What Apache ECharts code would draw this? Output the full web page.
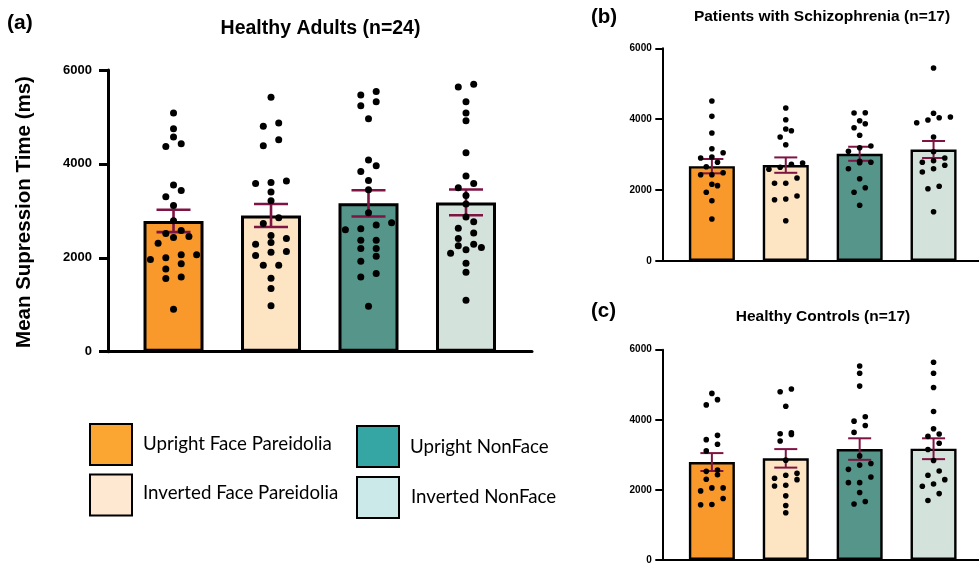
<!DOCTYPE html>
<html>
<head>
<meta charset="utf-8">
<script src="https://cdn.jsdelivr.net/npm/echarts@6/dist/echarts.min.js"></script>
<style>
html,body{margin:0;padding:0;background:#fff;}
#chart{width:979px;height:565px;}
</style>
</head>
<body>
<div id="chart"></div>
<script>
// ---------- data ----------
const categories = ['Upright Face Pareidolia', 'Inverted Face Pareidolia', 'Upright NonFace', 'Inverted NonFace'];
const yTicks = [0, 2000, 4000, 6000];

// (a) Healthy Adults (n=24)
const adultsMeans = [2785, 2900, 3160, 3180];
const adultsSEM = [238, 245, 280, 274];
const adultsUprightFace = [5085, 4750, 4573, 4430, 4373, 3549, 3434, 3300, 3115, 2788, 2581, 2517, 2453, 2432, 2312, 2063, 2063, 1999, 1962, 1871, 1764, 1593, 1557, 904];
const adultsInvertedFace = [5418, 4871, 4800, 4516, 4388, 3634, 3584, 3605, 3400, 3214, 2852, 2730, 2474, 2410, 2325, 2291, 2133, 2120, 2048, 1843, 1843, 1566, 1344, 981];
const adultsUprightNon = [5540, 5469, 5326, 5241, 4964, 4083, 3961, 3840, 3648, 3449, 2959, 2745, 2696, 2596, 2617, 2376, 2376, 2197, 2197, 2035, 1928, 1664, 1593, 968];
const adultsInvertedNon = [5695, 5639, 5326, 5085, 4921, 4238, 3741, 3584, 3492, 3328, 3144, 2867, 2767, 2632, 2526, 2410, 2291, 2255, 2218, 2169, 2099, 1886, 1694, 1096];

// (b) Patients with Schizophrenia (n=17)
const patientsMeans = [2675, 2705, 3025, 3145];
const patientsSEM = [202, 217, 198, 240];
const patientsUprightFace = [4514, 4081, 3611, 3168, 3055, 2934, 2906, 2784, 2660, 2491, 2435, 2435, 2164, 2125, 1938, 1701, 1185];
const patientsInvertedFace = [4316, 3986, 3724, 3676, 3498, 3281, 2728, 2765, 2643, 2587, 2341, 2192, 2192, 1834, 1729, 1749, 1137];
const patientsUprightNon = [4175, 4184, 3958, 3873, 3760, 3546, 3244, 3196, 3095, 2773, 2784, 2812, 2604, 2322, 2068, 1938, 1571];
const patientsInvertedNon = [5445, 4166, 4062, 4043, 3978, 3901, 3498, 3083, 2906, 2830, 2784, 2700, 2604, 2511, 2107, 2040, 1391];

// (c) Healthy Controls (n=17)
const controlsMeans = [2795, 2900, 3165, 3175];
const controlsSEM = [255, 264, 307, 297];
const controlsUprightFace = [4753, 4575, 4425, 3556, 3434, 3301, 3112, 2566, 2529, 2433, 2303, 2057, 2057, 1972, 1754, 1576, 1584];
const controlsInvertedFace = [4877, 4801, 4385, 3604, 3632, 3584, 3395, 2849, 2472, 2416, 2331, 2292, 2133, 2113, 1830, 1556, 1349];
const controlsUprightNon = [5536, 5330, 4962, 4085, 3961, 3839, 3641, 2970, 2755, 2707, 2586, 2368, 2207, 2207, 1924, 1669, 1596];
const controlsInvertedNon = [5641, 5330, 4922, 4235, 3746, 3593, 3528, 3330, 3152, 2840, 2538, 2416, 2292, 2170, 2105, 1895, 1697];

// ---------- styles ----------
const barColors = ['#F9992C', '#FDE5C4', '#56958A', '#D3E2DB'];
const legendColors = ['#FBA633', '#FFE8D1', '#35A6A4', '#CBE9E8'];
const errColor = '#7E1444';
const FONT = '"Liberation Sans", Arial, sans-serif';

const panels = [
  { key: 'a', means: adultsMeans, sem: adultsSEM,
    dots: [adultsUprightFace, adultsInvertedFace, adultsUprightNon, adultsInvertedNon],
    grid: { left: 108, top: 70, width: 424, height: 281.7 },
    xMin: -0.672, xMax: 3.677, barWidth: 60, border: 3, axisW: 3, tickLen: 9,
    labelSize: 13, labelMargin: 16, dot: 7, capHalf: 17, errW: 2.6, jitter: 0.079 },
  { key: 'b', means: patientsMeans, sem: patientsSEM,
    dots: [patientsUprightFace, patientsInvertedFace, patientsUprightNon, patientsInvertedNon],
    grid: { left: 662.3, top: 48.3, width: 316.7, height: 212.7 },
    xMin: -0.671, xMax: 3.615, barWidth: 46, border: 2.4, axisW: 2, tickLen: 7,
    labelSize: 10, labelMargin: 10.5, dot: 5.6, capHalf: 11.5, errW: 2, jitter: 0.076 },
  { key: 'c', means: controlsMeans, sem: controlsSEM,
    dots: [controlsUprightFace, controlsInvertedFace, controlsUprightNon, controlsInvertedNon],
    grid: { left: 662.3, top: 349.7, width: 316.7, height: 212 },
    xMin: -0.671, xMax: 3.615, barWidth: 46, border: 2.4, axisW: 2, tickLen: 7,
    labelSize: 10, labelMargin: 10.5, dot: 5.6, capHalf: 11.5, errW: 2, jitter: 0.076 }
];

// group points of similar value into rows, then centre each row (scatter-dot layout)
function swarmOffsets(values, binH) {
  const idx = values.map((v, i) => i).sort((a, b) => values[a] - values[b]);
  const off = new Array(values.length).fill(0);
  let i = 0;
  while (i < idx.length) {
    let j = i;
    const start = values[idx[i]];
    while (j < idx.length && values[idx[j]] - start < binH) j++;
    const n = j - i;
    for (let k = 0; k < n; k++) off[idx[i + k]] = (k - (n - 1) / 2) * 2;
    i = j;
  }
  return off;
}

const grids = [], xAxes = [], yAxes = [], series = [];
panels.forEach((p, pi) => {
  grids.push(Object.assign({ containLabel: false }, p.grid));
  xAxes.push({
    type: 'value', gridIndex: pi, min: p.xMin, max: p.xMax,
    axisLine: { show: true, onZero: false, lineStyle: { color: '#000', width: p.axisW } },
    axisTick: { show: false }, axisLabel: { show: false }, splitLine: { show: false }
  });
  yAxes.push({
    type: 'value', gridIndex: pi, min: yTicks[0], max: yTicks[yTicks.length - 1], interval: yTicks[1] - yTicks[0],
    axisLine: { show: true, onZero: false, lineStyle: { color: '#000', width: p.axisW } },
    axisTick: { show: true, length: p.tickLen, lineStyle: { color: '#000', width: p.axisW } },
    axisLabel: { color: '#000', fontFamily: FONT, fontWeight: 'bold', fontSize: p.labelSize, margin: p.labelMargin,
      formatter: v => String(v) },
    splitLine: { show: false }
  });
  series.push({
    type: 'bar', xAxisIndex: pi, yAxisIndex: pi, barWidth: p.barWidth, z: 2,
    data: p.means.map((m, i) => ({ value: [i, m], itemStyle: { color: barColors[i] } })),
    itemStyle: { borderColor: '#000', borderWidth: p.border },
    emphasis: { disabled: true }, silent: true
  });
  series.push({
    type: 'custom', xAxisIndex: pi, yAxisIndex: pi, z: 3, silent: true,
    data: p.means.map((m, i) => [i, m, p.sem[i]]),
    renderItem: function (params, api) {
      const x = api.value(0), m = api.value(1), s = api.value(2);
      const top = api.coord([x, m + s]);
      const bot = api.coord([x, m - s]);
      const st = { stroke: errColor, lineWidth: p.errW, fill: null };
      return { type: 'group', children: [
        { type: 'line', shape: { x1: top[0], y1: top[1], x2: bot[0], y2: bot[1] }, style: st },
        { type: 'line', shape: { x1: top[0] - p.capHalf, y1: top[1], x2: top[0] + p.capHalf, y2: top[1] }, style: st },
        { type: 'line', shape: { x1: bot[0] - p.capHalf, y1: bot[1], x2: bot[0] + p.capHalf, y2: bot[1] }, style: st }
      ]};
    }
  });
  const binH = 7 / (p.grid.height / 6000);
  const pts = [];
  p.dots.forEach((vals, ci) => {
    const off = swarmOffsets(vals, binH);
    vals.forEach((v, k) => pts.push([ci + off[k] * p.jitter, v]));
  });
  series.push({
    type: 'scatter', xAxisIndex: pi, yAxisIndex: pi, z: 4, silent: true,
    symbol: 'circle', symbolSize: p.dot, itemStyle: { color: '#000', opacity: 1 }, data: pts
  });
});

function txt(text, x, y, size, weight, align, extra) {
  return Object.assign({
    type: 'text', x: x, y: y, silent: true,
    style: { text: text, fill: '#000', font: weight + ' ' + size + 'px ' + (extra && extra.family ? extra.family : FONT),
      textAlign: align, textVerticalAlign: 'middle', align: align, verticalAlign: 'middle' }
  }, extra && extra.rotation ? { rotation: extra.rotation } : {});
}

const LFONT = 'Lato, "Open Sans", sans-serif';
const legendBoxes = [
  { x: 90, y: 424, label: categories[0], tx: 143, ty: 444 },
  { x: 90, y: 474.5, label: categories[1], tx: 143, ty: 493 },
  { x: 357, y: 426, label: categories[2], tx: 410, ty: 447 },
  { x: 357, y: 477, label: categories[3], tx: 411, ty: 497 }
];
const graphics = [
  txt('(a)', 7, 23, 21, 'bold', 'left'),
  txt('Healthy Adults (n=24)', 320.5, 29, 19.5, 'bold', 'center'),
  txt('Mean Supression Time (ms)', 24, 212, 20.5, 'bold', 'center', { rotation: Math.PI / 2 }),
  txt('(b)', 591, 17, 20.5, 'bold', 'left'),
  txt('Patients with Schizophrenia (n=17)', 822, 16.5, 15.5, 'bold', 'center'),
  txt('(c)', 591, 311, 20.5, 'bold', 'left'),
  txt('Healthy Controls (n=17)', 823, 317, 15.5, 'bold', 'center')
];
legendBoxes.forEach((b, i) => {
  graphics.push({ type: 'rect', silent: true, shape: { x: b.x, y: b.y, width: 42, height: 41 },
    style: { fill: legendColors[i], stroke: '#000', lineWidth: 2 } });
  graphics.push(txt(b.label, b.tx, b.ty, 18.7, 'normal', 'left', { family: LFONT }));
});

const chart = echarts.init(document.getElementById('chart'), null, { renderer: 'canvas' });
chart.setOption({
  animation: false,
  backgroundColor: '#fff',
  grid: grids, xAxis: xAxes, yAxis: yAxes, series: series,
  graphic: { elements: graphics }
});
</script>
</body>
</html>
